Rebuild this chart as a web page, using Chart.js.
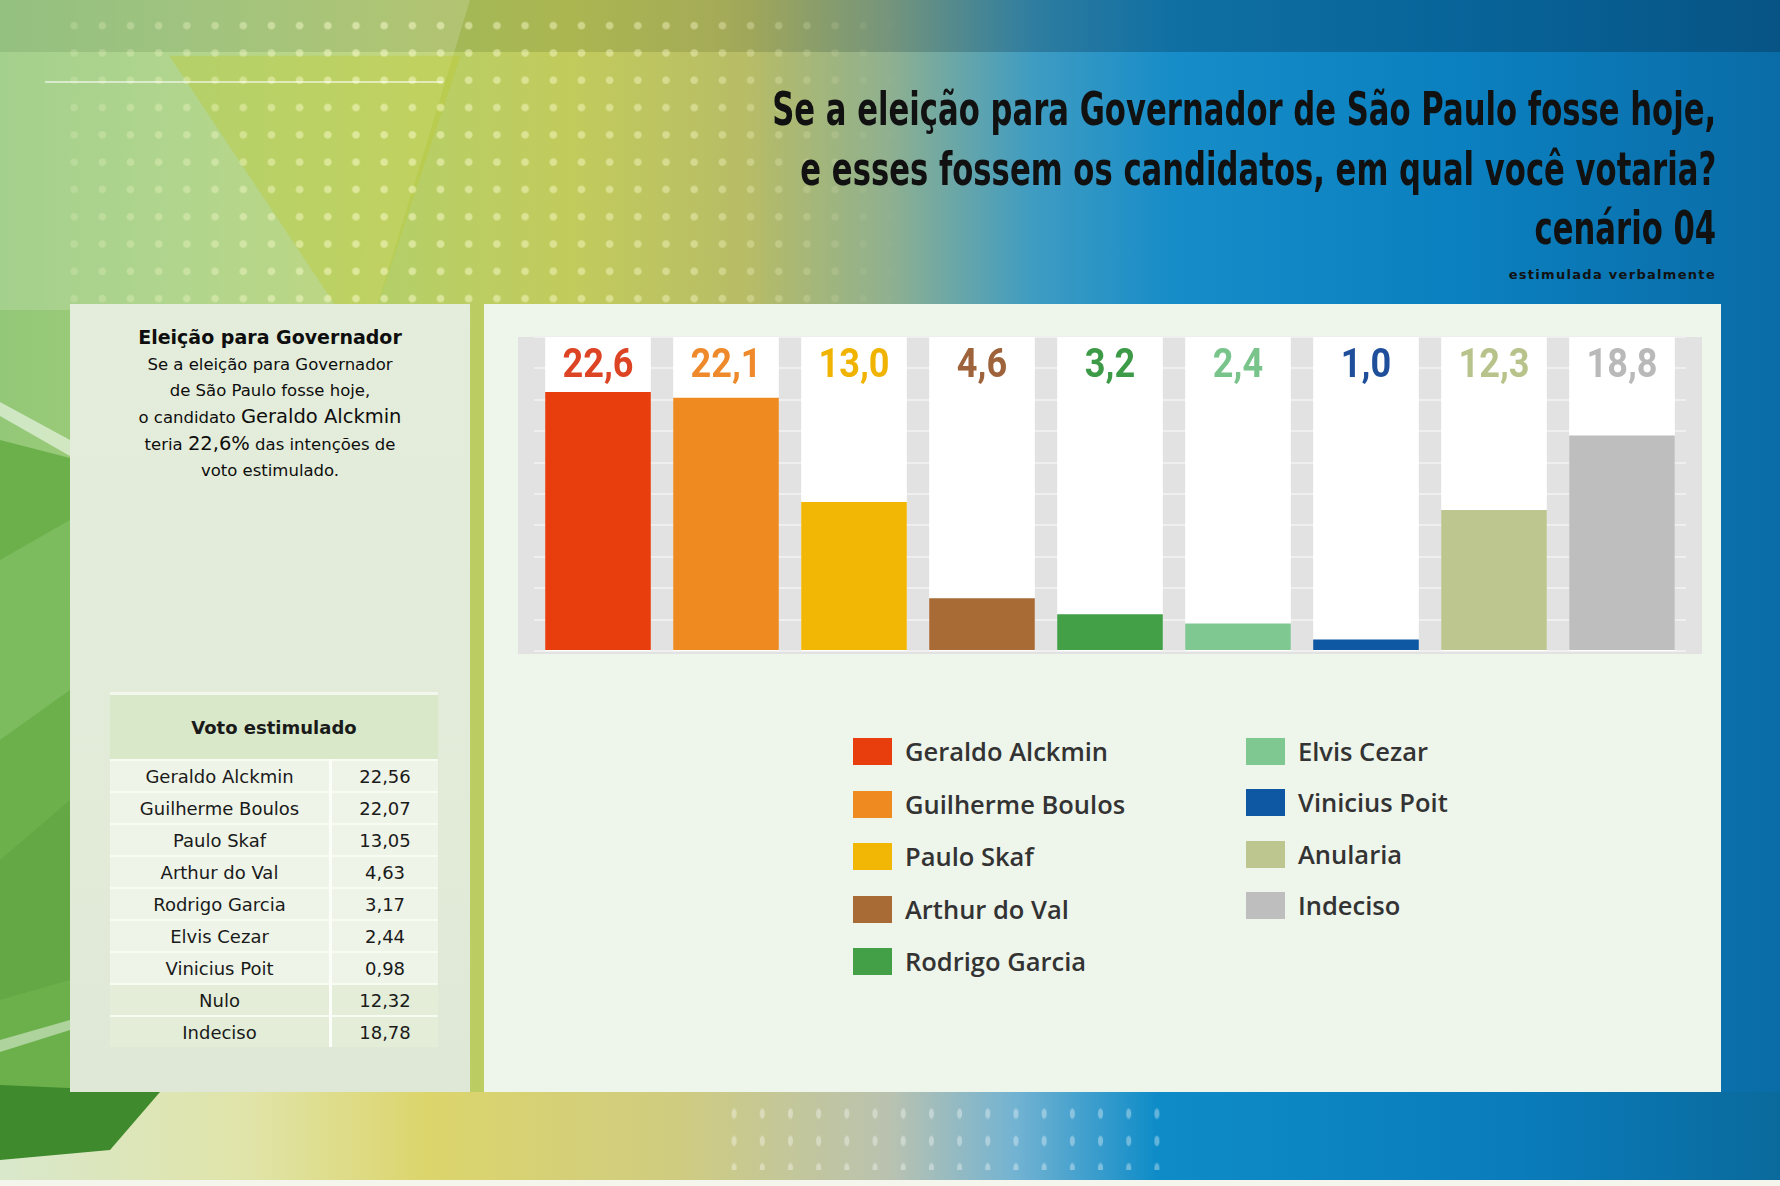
<!DOCTYPE html>
<html lang="pt-BR">
  <head>
    <title>cenário 04</title>
    <meta charset="utf-8" />
    <script src="https://cdn.jsdelivr.net/npm/chart.js@4.4.9/dist/chart.umd.min.js"></script>
    <style>
      body { margin: 0; padding: 0; width: 1780px; height: 1186px; overflow: hidden; }
      #stage {
        position: relative; width: 1780px; height: 1186px; overflow: hidden;
        background: linear-gradient(to right, #93c878 0%, #a2cd78 10%, #b5cf68 22%, #c2cb5c 32%, #b7bc66 42%, #8fb090 50%, #3f9cc2 58%, #168cc8 66%, #0b80c0 82%, #0a6ca6 100%);
        font-family: "DejaVu Sans", sans-serif;
      }
      .abs { position: absolute; }
      #topband { left: 0; top: 0; width: 1780px; height: 52px;
        background: linear-gradient(to right, rgba(40,90,30,0.18), rgba(60,70,20,0.16) 40%, rgba(0,40,70,0.28) 60%, rgba(0,40,70,0.35)); }
      #dots { left: 60px; top: 12px; width: 840px; height: 295px;
        background-image: radial-gradient(circle at center, rgba(255,255,210,0.5) 3.2px, transparent 4.4px);
        background-size: 28.2px 27.3px;
        -webkit-mask-image: linear-gradient(to right, rgba(0,0,0,0.35), #000 35%, rgba(0,0,0,0.8) 75%, transparent);
        mask-image: linear-gradient(to right, rgba(0,0,0,0.35), #000 35%, rgba(0,0,0,0.8) 75%, transparent); }
      #wedge { left: 0; top: 0; width: 470px; height: 310px; background: rgba(255,255,255,0.16);
        clip-path: polygon(0 0, 100% 0, 80% 100%, 0 100%); }
      #wedge2 { left: 0; top: 0; width: 470px; height: 310px; background: rgba(190,200,40,0.35);
        clip-path: polygon(36% 18%, 98% 18%, 80% 100%, 72% 100%); }
      #hline { left: 45px; top: 81px; width: 398px; height: 2px; background: rgba(255,255,255,0.55); }
      #bottom { left: 0; top: 1092px; width: 1780px; height: 94px;
        background: linear-gradient(to right, #d9e8cc 0%, #e0e4a8 14%, #dcd56c 24%, #cfcc80 38%, #b9c2b0 50%, #73b3d2 57%, #0e8cc8 65%, #0a7cbc 85%, #0a6a9c 100%); }
      #bottomdots { left: 720px; top: 1100px; width: 460px; height: 70px;
        background-image: radial-gradient(ellipse 3px 6px at center, rgba(255,255,255,0.35) 70%, transparent 100%);
        background-size: 28.2px 27.3px; }
      #bottomline { left: 0; top: 1180px; width: 1780px; height: 6px; background: #f4f6ee; }
      .poly { left: 0; top: 0; width: 1780px; height: 1186px; }
      #g1 { background: #6cb04c; clip-path: polygon(0 440px, 70px 458px, 70px 1092px, 0 1092px); }
      #g2 { background: rgba(255,255,255,0.55); clip-path: polygon(0 402px, 70px 440px, 70px 456px, 0 416px); }
      #g3 { background: #7cbb5e; clip-path: polygon(0 560px, 70px 520px, 70px 690px, 0 740px); }
      #g4 { background: #63a845; clip-path: polygon(0 860px, 70px 800px, 70px 980px, 0 1000px); }
      #g5 { background: rgba(255,255,255,0.45); clip-path: polygon(0 1040px, 70px 1020px, 70px 1030px, 0 1052px); }
      #g6 { background: #3f8a2c; clip-path: polygon(0 1085px, 160px 1092px, 110px 1150px, 0 1160px); }

      #title { right: 64px; top: 80px; text-align: right; color: #111; white-space: nowrap;
        font-family: "DejaVu Sans", sans-serif; font-weight: bold;
        font-size: 46px; line-height: 59.5px; transform-origin: right top; }
      #sub { right: 64px; top: 267px; font-size: 13px; font-weight: bold; color: #111; letter-spacing: 1.3px; }

      #left { left: 70px; top: 304px; width: 400px; height: 788px;
        background: linear-gradient(to bottom, #e4eddb, #e2ebd8 70%, #dfe8d6); }
      #right { left: 484px; top: 304px; width: 1237px; height: 788px; background: #eef5eb; }
      #intro { left: 70px; top: 324px; width: 400px; text-align: center; color: #0e0e0e; font-size: 16.5px; line-height: 26px; }
      #intro .h { font-weight: bold; font-size: 19px; }
      #intro .big { font-size: 19.5px; }

      #table { left: 110px; top: 692px; width: 328px; border-collapse: collapse; font-size: 18px; color: #1a1a1a; }
      #table th { height: 62px; background: #d8e8c9; font-weight: bold; font-size: 18px; border-top: 3px solid #f2f6ec; }
      #table td { height: 30px; padding: 0; text-align: center; background: #eef4e8; border-top: 2px solid #f8fbf4; }
      #table td.v { border-left: 3px solid #fbfdf8; width: 106px; }
      #table tr.alt td { background: #e3edd8; }

      #chartBox { left: 500px; top: 318px; width: 1205px; height: 350px; }
      .sw { position: absolute; width: 39px; height: 27px; }
      .lt { position: absolute; font-family: "Open Sans", sans-serif; font-weight: 600; font-size: 25.5px; color: #333; white-space: nowrap; line-height: 27px; }
    </style>
  </head>

  <body>
    <div id="stage">
      <div class="abs" id="topband"></div>
      <div class="abs" id="wedge"></div>
      <div class="abs" id="wedge2"></div>
      <div class="abs" id="dots"></div>
      <div class="abs" id="hline"></div>
      <div class="abs poly" id="g1"></div>
      <div class="abs poly" id="g2"></div>
      <div class="abs poly" id="g3"></div>
      <div class="abs poly" id="g4"></div>
      <div class="abs poly" id="g5"></div>
      <div class="abs" id="bottom"></div>
      <div class="abs" id="bottomdots"></div>
      <div class="abs poly" id="g6"></div>
      <div class="abs" id="bottomline"></div>

      <div class="abs" id="title">
        <div id="t1">Se a eleição para Governador de São Paulo fosse hoje,</div>
        <div>e esses fossem os candidatos, em qual você votaria?</div>
        <div>cenário 04</div>
      </div>
      <div class="abs" id="sub">estimulada verbalmente</div>

      <div class="abs" id="left"></div>
      <div class="abs" id="right"></div>
      <div class="abs" id="intro">
        <span class="h">Eleição para Governador</span><br />
        Se a eleição para Governador<br />
        de São Paulo fosse hoje,<br />
        o candidato <span class="big">Geraldo Alckmin</span><br />
        teria <span class="big">22,6%</span> das intenções de<br />
        voto estimulado.
      </div>
      <table class="abs" id="table"></table>

      <div class="abs" id="chartBox"><canvas id="myChart"></canvas></div>
      <div class="abs" id="legend"></div>
    </div>

    <script>
      const candidates = [
        "Geraldo Alckmin", "Guilherme Boulos", "Paulo Skaf", "Arthur do Val", "Rodrigo Garcia",
        "Elvis Cezar", "Vinicius Poit", "Anularia", "Indeciso",
      ];
      const votes = [22.6, 22.1, 13.0, 4.6, 3.2, 2.4, 1.0, 12.3, 18.8];
      const barColors = [
        "#e83d0c", "#ee8a20", "#f2b705", "#a86b36", "#43a047",
        "#80c891", "#0d57a3", "#bcc68e", "#bebebe",
      ];
      const labelColors = [
        "#dd4424", "#ee8a2c", "#f0b400", "#9e633a", "#3d9b48",
        "#79c48b", "#1f4f9b", "#b7c38a", "#b9b9b9",
      ];
      const tableNames = [
        "Geraldo Alckmin", "Guilherme Boulos", "Paulo Skaf", "Arthur do Val", "Rodrigo Garcia",
        "Elvis Cezar", "Vinicius Poit", "Nulo", "Indeciso",
      ];
      const tableValues = ["22,56", "22,07", "13,05", "4,63", "3,17", "2,44", "0,98", "12,32", "18,78"];
      const yMax = 27.4;

      // condensed look for the headline: squeeze the first line to its width in the picture
      const t1 = document.getElementById("t1");
      const title = document.getElementById("title");
      title.style.transform = `scaleX(${944 / t1.getBoundingClientRect().width})`;

      // table on the left
      const table = document.getElementById("table");
      let html = '<tr><th colspan="2">Voto estimulado</th></tr>';
      tableNames.forEach((name, i) => {
        const cls = i >= 7 ? ' class="alt"' : "";
        html += `<tr${cls}><td>${name}</td><td class="v">${tableValues[i]}</td></tr>`;
      });
      table.innerHTML = html;

      // legend, two columns
      const legend = document.getElementById("legend");
      candidates.forEach((name, i) => {
        const col = i < 5 ? 0 : 1;
        const row = i < 5 ? i : i - 5;
        const x = col ? 1246 : 853;
        const y = 738 + row * (col ? 51.3 : 52.5);
        legend.insertAdjacentHTML(
          "beforeend",
          `<div class="sw" style="left:${x}px;top:${y}px;background:${barColors[i]}"></div>` +
            `<div class="lt" style="left:${x + 52}px;top:${y}px">${name}</div>`
        );
      });

      const columnsPlugin = {
        id: "columns",
        beforeDraw(chart) {
          const { ctx, chartArea: a } = chart;
          ctx.save();
          ctx.fillStyle = "#e2e2e2";
          ctx.fillRect(a.left - 16, a.top, a.right - a.left + 32, a.bottom - a.top + 3);
          ctx.restore();
        },
        beforeDatasetsDraw(chart) {
          const { ctx, chartArea: a } = chart;
          ctx.save();
          ctx.fillStyle = "#ffffff";
          for (const bar of chart.getDatasetMeta(0).data) {
            ctx.fillRect(bar.x - bar.width / 2, a.top, bar.width, a.bottom - a.top);
          }
          ctx.restore();
        },
        afterDatasetsDraw(chart) {
          const { ctx, chartArea: a } = chart;
          ctx.save();
          ctx.font = "bold 40px Roboto, sans-serif";
          ctx.textAlign = "center";
          ctx.textBaseline = "middle";
          const sx = 71 / ctx.measureText("22,6").width;
          chart.getDatasetMeta(0).data.forEach((bar, i) => {
            ctx.save();
            ctx.translate(bar.x, a.top + 30);
            ctx.scale(sx, 1);
            ctx.fillStyle = labelColors[i];
            ctx.fillText(votes[i].toFixed(1).replace(".", ","), 0, 0);
            ctx.restore();
          });
          ctx.restore();
        },
      };

      new Chart(document.getElementById("myChart"), {
        type: "bar",
        data: {
          labels: candidates,
          datasets: [
            {
              data: votes,
              backgroundColor: barColors,
              barPercentage: 0.825,
              categoryPercentage: 1,
            },
          ],
        },
        plugins: [columnsPlugin],
        options: {
          responsive: true,
          maintainAspectRatio: false,
          animation: false,
          layout: { padding: { left: 34, right: 19, top: 19, bottom: 17 } },
          plugins: { legend: { display: false }, tooltip: { enabled: false } },
          scales: {
            x: { display: false },
            y: {
              min: 0,
              max: yMax,
              ticks: { display: false, stepSize: yMax / 10 },
              grid: { color: "#efefef", lineWidth: 2, drawTicks: false },
              border: { display: false },
            },
          },
        },
      });
    </script>
  </body>
</html>
